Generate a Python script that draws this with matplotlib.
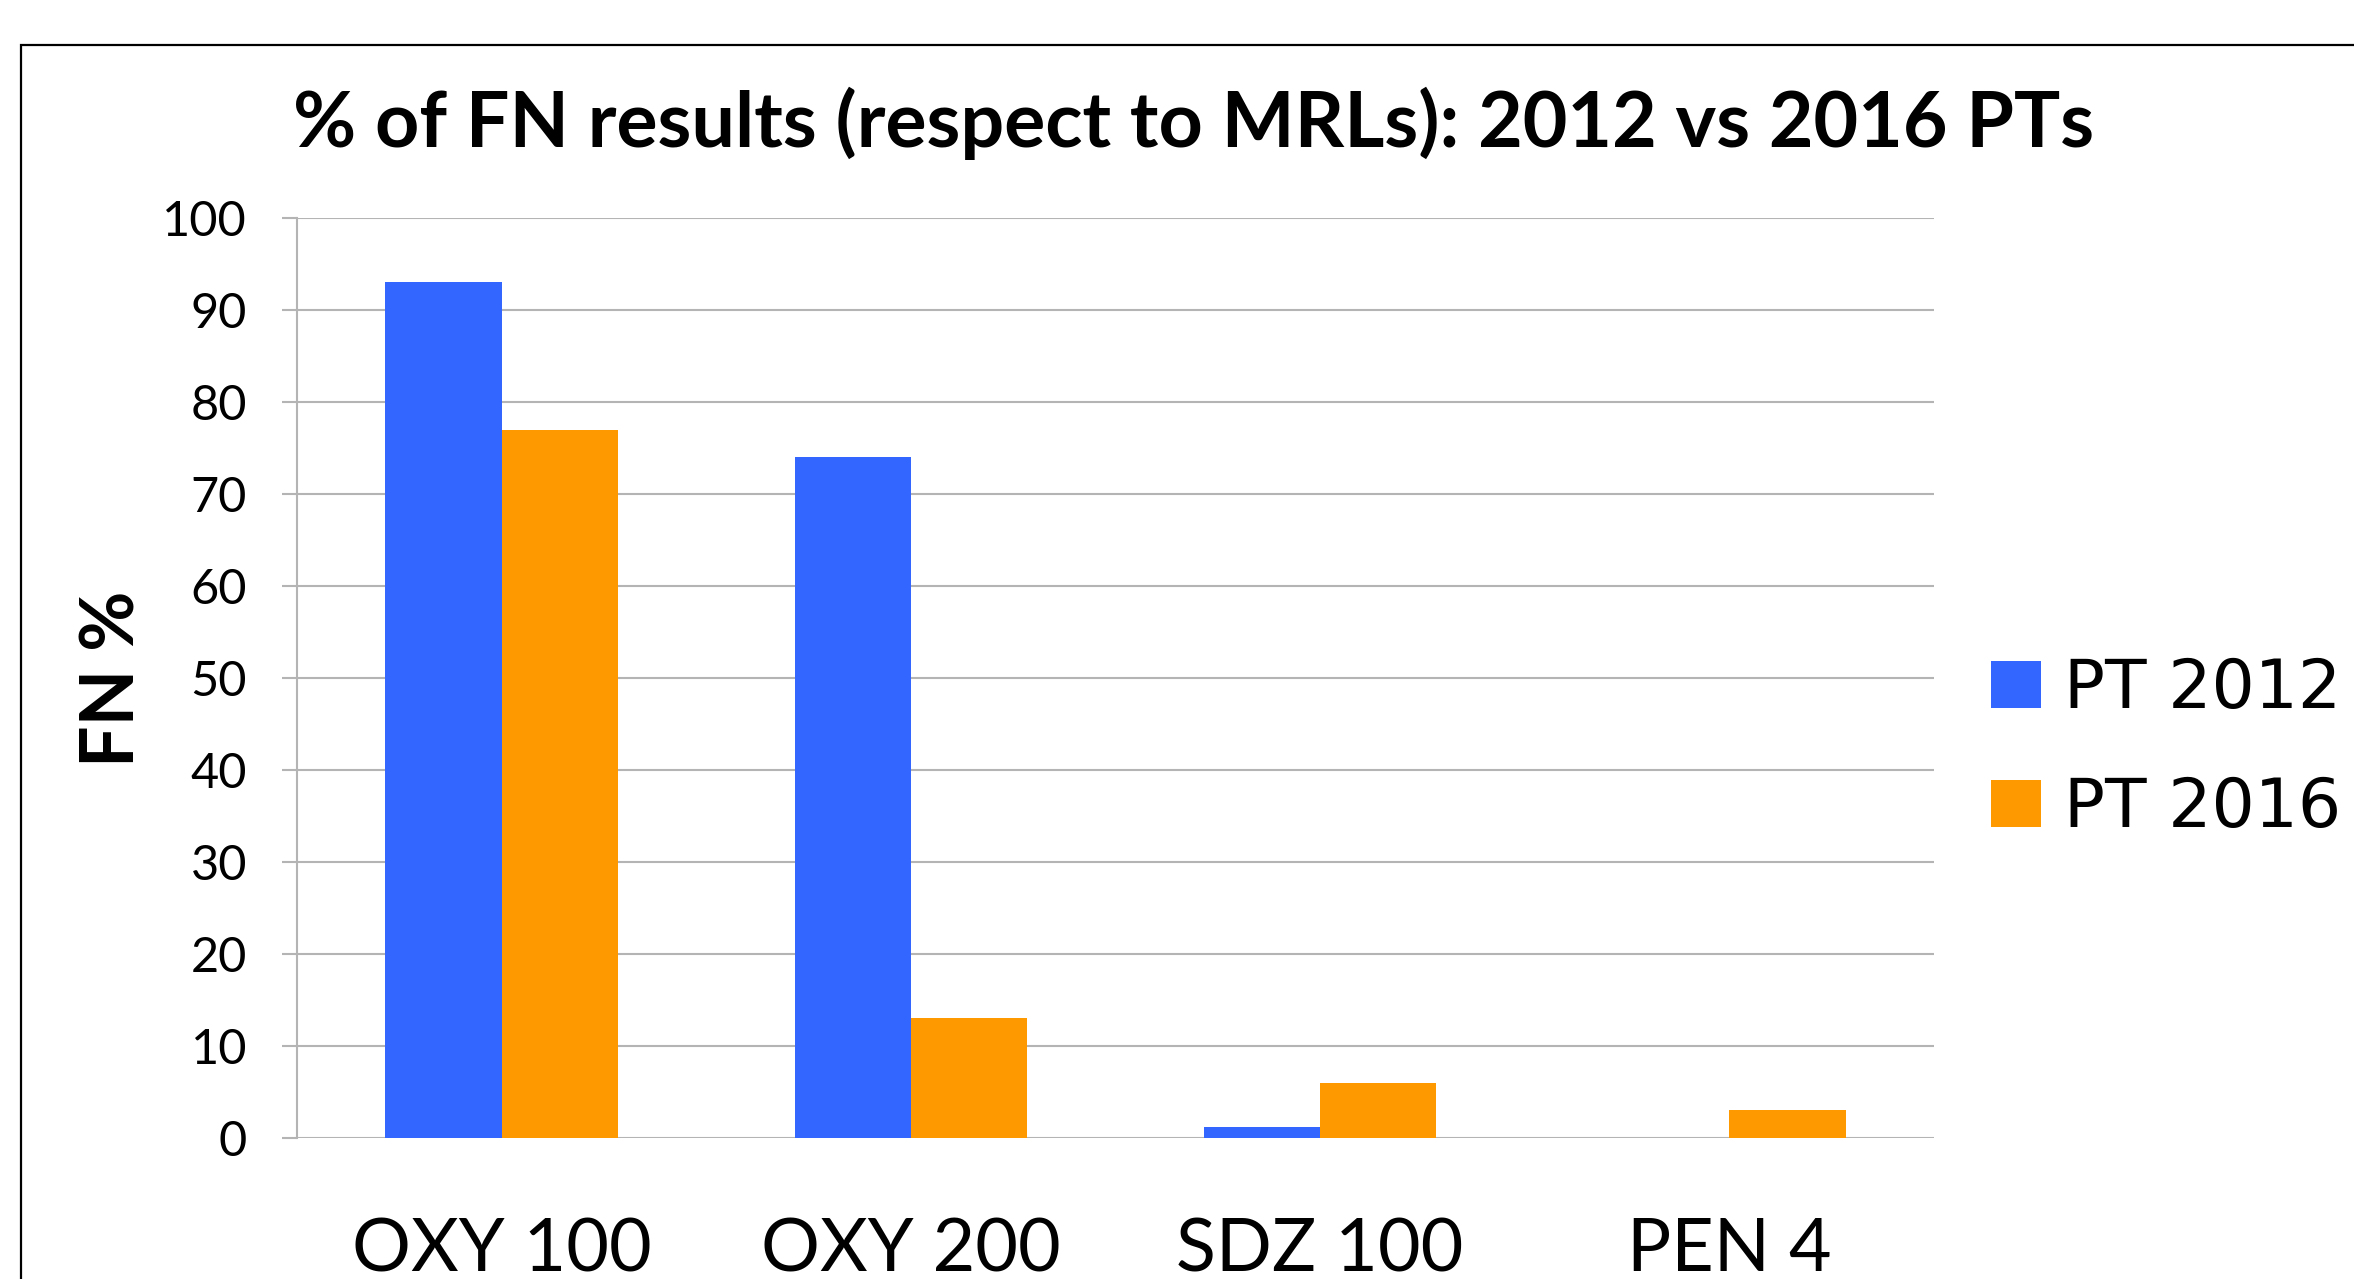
import matplotlib
matplotlib.use("Agg")
import matplotlib.pyplot as plt
import numpy as np
from matplotlib.patches import Rectangle

# data
categories = ["OXY 100", "OXY 200", "SDZ 100", "PEN 4"]
pt2012 = [93, 74, 1.2, 0]
pt2016 = [77, 13, 6, 3]
series_names = ["PT 2012", "PT 2016"]
yticks = [0, 10, 20, 30, 40, 50, 60, 70, 80, 90, 100]

blue = "#3366FF"
orange = "#FF9900"
grid_col = "#B4B4B4"

fig = plt.figure(figsize=(23.54, 12.79), dpi=100)
ax = fig.add_axes([0.1262, 0.1102, 0.6954, 0.7194])

x = np.arange(len(categories))
w = 0.284
b1 = ax.bar(x - w / 2, pt2012, w, color=blue, label=series_names[0], zorder=3)
b2 = ax.bar(x + w / 2, pt2016, w, color=orange, label=series_names[1], zorder=3)

ax.set_xlim(-0.5, len(categories) - 0.5)
ax.set_ylim(0, 100)
ax.set_yticks(yticks)
ax.set_xticks(x)
ax.set_xticklabels(categories, fontfamily="Lato", fontsize=53)
ax.tick_params(axis="x", length=0, pad=57)
ax.tick_params(axis="y", length=11, width=1.5, color=grid_col, pad=25,
               labelsize=35)
for lab in ax.get_yticklabels():
    lab.set_fontfamily("Lato")

ax.grid(axis="y", color=grid_col, linewidth=1.5, zorder=0)
for s in ["top", "right", "bottom"]:
    ax.spines[s].set_visible(False)
ax.spines["left"].set_color(grid_col)
ax.spines["left"].set_linewidth(1.5)

# title and y label
fig.text(0.507, 0.885, "% of FN results (respect to MRLs): 2012 vs 2016 PTs",
         ha="center", va="baseline", fontsize=55.5, fontweight="bold",
         fontfamily="Lato")
fig.text(0.048, 0.469, "FN %", rotation=90, ha="center", va="center",
         fontsize=53, fontweight="bold", fontfamily="Lato")

# legend
fig.legend(handles=[b1, b2], labels=series_names, loc="center left",
           bbox_to_anchor=(0.846, 0.4145), frameon=False, fontsize=49,
           handlelength=0.73, handleheight=0.68, handletextpad=0.33,
           labelspacing=0.78, borderpad=0, borderaxespad=0)

# outer frame (runs off the right and bottom edges)
fig.patches.append(Rectangle((0.0089, -0.2), 1.5, 0.9648 + 0.2,
                             transform=fig.transFigure, fill=False,
                             edgecolor="black", linewidth=1.6))

fig.savefig("out.png", dpi=100)
